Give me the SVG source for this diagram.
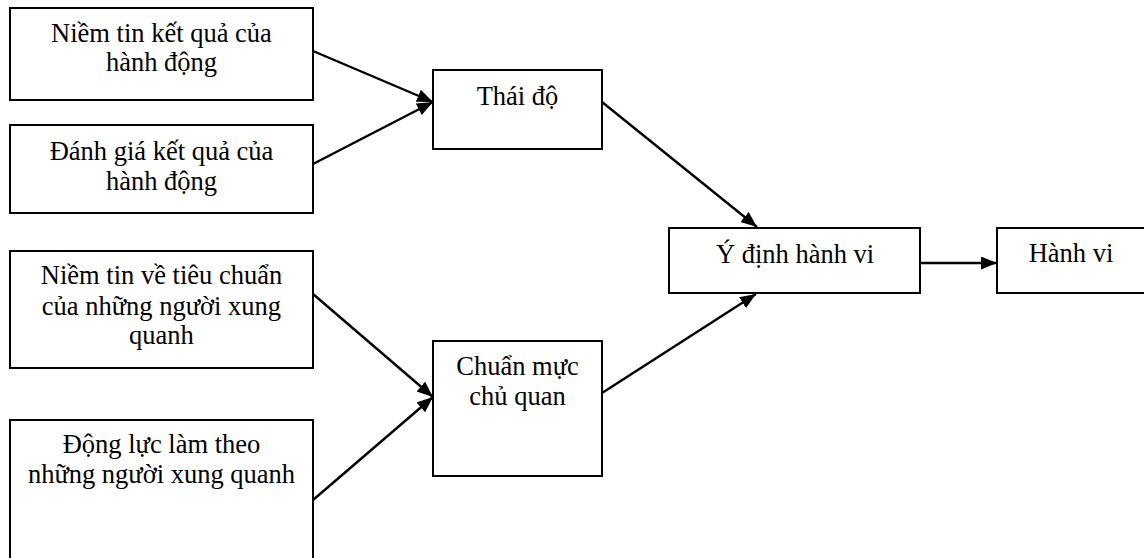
<svg xmlns="http://www.w3.org/2000/svg" width="1144" height="558" viewBox="0 0 1144 558">
<style>
.box{fill:#fff;stroke:#000;stroke-width:2}
.t{font-family:"Liberation Serif","Times New Roman",serif;font-size:26.5px;fill:#000;text-anchor:middle}
.c{stroke:#000;stroke-width:2.4;fill:none;marker-end:url(#ah)}
</style>
<defs>
<marker id="ah" markerUnits="userSpaceOnUse" markerWidth="18" markerHeight="14" refX="16" refY="6.5" orient="auto">
<path d="M0,0 L16,6.5 L0,13 z" fill="#000"/>
</marker>
</defs>
<rect width="1144" height="558" fill="#fff"/>
<g id="n1"><rect class="box" x="10" y="8" width="303" height="92"/>
<text class="t" x="161.5" y="42">Niềm tin kết quả của</text><text class="t" x="161.5" y="71">hành động</text></g>
<g id="n2"><rect class="box" x="10" y="125" width="303" height="88"/>
<text class="t" x="161.5" y="160">Đánh giá kết quả của</text><text class="t" x="161.5" y="190">hành động</text></g>
<g id="n3"><rect class="box" x="10" y="251" width="303" height="117"/>
<text class="t" x="161.5" y="284">Niềm tin về tiêu chuẩn</text><text class="t" x="161.5" y="315">của những người xung</text><text class="t" x="161.5" y="344">quanh</text></g>
<g id="n4"><rect class="box" x="10" y="420" width="303" height="150"/>
<text class="t" x="161.5" y="453">Động lực làm theo</text><text class="t" x="161.5" y="483">những người xung quanh</text></g>
<g id="n5"><rect class="box" x="433" y="70" width="169" height="79"/>
<text class="t" x="517.5" y="105">Thái độ</text></g>
<g id="n6"><rect class="box" x="433" y="341" width="169" height="135"/>
<text class="t" x="517.5" y="375">Chuẩn mực</text><text class="t" x="517.5" y="405">chủ quan</text></g>
<g id="n7"><rect class="box" x="669" y="228" width="251" height="65"/>
<text class="t" x="795" y="263">Ý định hành vi</text></g>
<g id="n8"><rect class="box" x="997" y="228" width="160" height="65"/>
<text class="t" x="1071" y="262">Hành vi</text></g>
<g id="connectors">
<line class="c" x1="313" y1="51" x2="433" y2="102"/>
<line class="c" x1="313" y1="164" x2="433" y2="102"/>
<line class="c" x1="313" y1="294" x2="433" y2="397"/>
<line class="c" x1="313" y1="500" x2="433" y2="397"/>
<line class="c" x1="602" y1="102" x2="757" y2="227"/>
<line class="c" x1="602" y1="393" x2="756" y2="294"/>
<line class="c" x1="920" y1="263" x2="997" y2="263"/>
</g>
</svg>
